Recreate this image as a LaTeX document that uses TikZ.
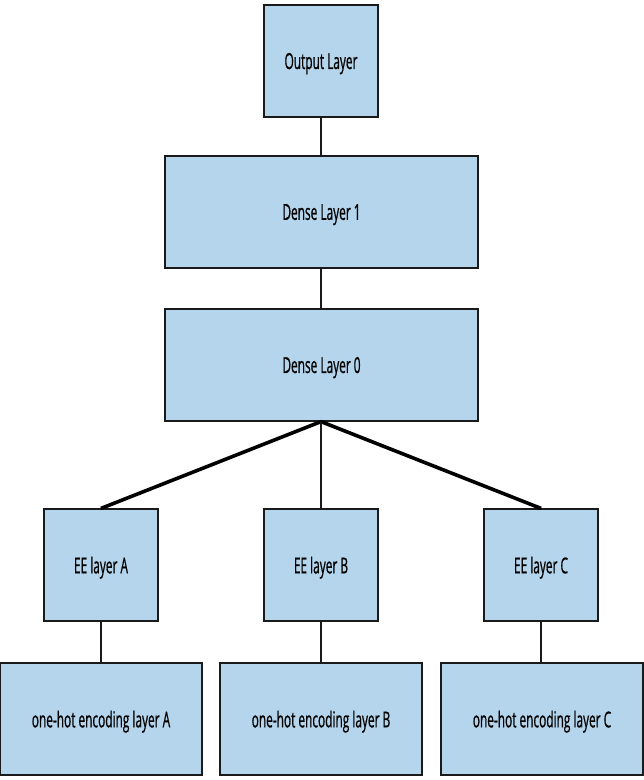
\documentclass[tikz,border=0pt]{standalone}
\usepackage{fontspec}
\setmainfont{Open Sans}[FakeStretch=0.54, FakeBold=0.6]
\definecolor{boxblue}{HTML}{B4D5EC}
\definecolor{edge}{HTML}{1A1A1A}
\begin{document}
\begin{tikzpicture}[x=1pt,y=-1pt,
  layer/.style={draw=edge, line width=1.2pt, fill=boxblue, inner sep=0pt, text depth=0pt, font=\fontsize{22}{26}\selectfont},
  thin/.style={draw=edge, line width=1.3pt},
  thick/.style={draw=black, line width=3.6pt}]
\useasboundingbox (0,0) rectangle (644,780);
\node[layer, minimum width=114pt, minimum height=112pt] (out) at (321,61) {Output Layer};
\node[layer, minimum width=313pt, minimum height=112pt] (d1) at (321.5,212) {Dense Layer 1};
\node[layer, minimum width=313pt, minimum height=112pt] (d0) at (321.5,365) {Dense Layer 0};
\node[layer, minimum width=114pt, minimum height=112pt] (eea) at (101,565) {EE layer A};
\node[layer, minimum width=114pt, minimum height=112pt] (eeb) at (321,565) {EE layer B};
\node[layer, minimum width=114pt, minimum height=112pt] (eec) at (541,565) {EE layer C};
\node[layer, minimum width=202pt, minimum height=112pt] (oha) at (101,719) {one-hot encoding layer A};
\node[layer, minimum width=202pt, minimum height=112pt] (ohb) at (321,719) {one-hot encoding layer B};
\node[layer, minimum width=202pt, minimum height=112pt] (ohc) at (542,719) {one-hot encoding layer C};
\draw[thin] (out.south) -- (out.south |- d1.north);
\draw[thin] (d1.south -| out.south) -- (d0.north -| out.south);
\coordinate (hub) at (d0.south -| out.south);
\draw[thick] (hub) -- (eea.north);
\draw[thick] (hub) -- (eec.north);
\draw[thin] (hub) -- (eeb.north);
\draw[thin] (eea.south) -- (oha.north -| eea.south);
\draw[thin] (eeb.south) -- (ohb.north -| eeb.south);
\draw[thin] (eec.south) -- (ohc.north -| eec.south);
\end{tikzpicture}
\end{document}
